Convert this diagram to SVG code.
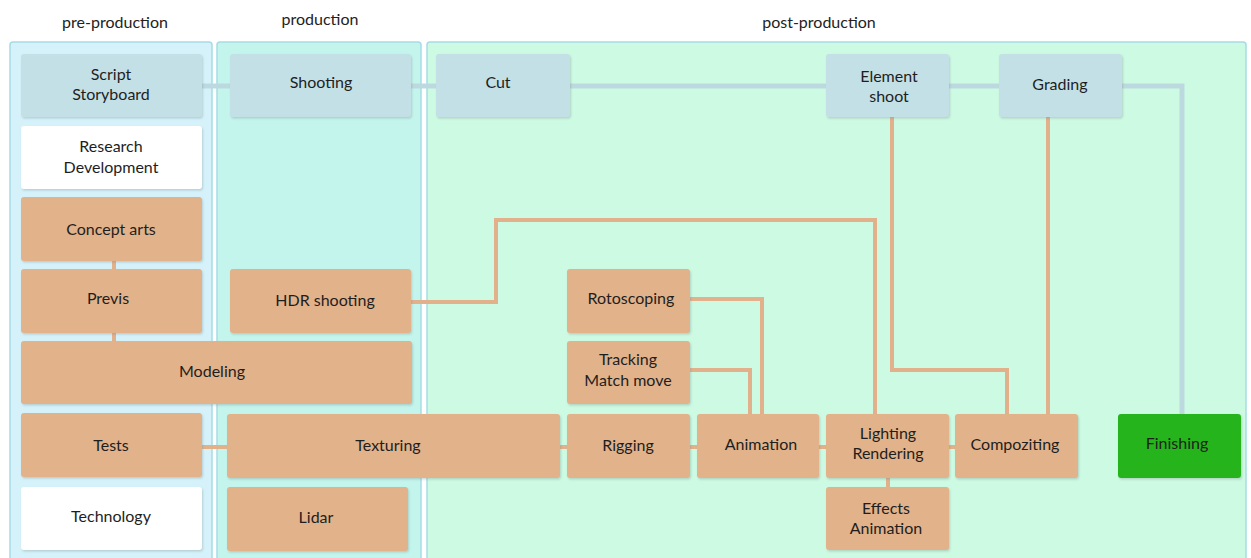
<svg xmlns="http://www.w3.org/2000/svg" width="1251" height="558" viewBox="0 0 1251 558">
  <defs>
    <filter id="shadow" x="-10%" y="-10%" width="120%" height="130%">
      <feDropShadow dx="1" dy="1.5" stdDeviation="1" flood-color="#7a8a8a" flood-opacity="0.35"/>
    </filter>
  </defs>
  <style>
    text { font-family: Lato, "Open Sans", "Liberation Sans", sans-serif; font-size: 16px; fill: #1e1e1e; text-anchor: middle; }
    .hdr { fill: #222; }
    .panel { stroke: #a6dbe5; stroke-width: 1.5; }
    .node rect { filter: url(#shadow); }
    .blue rect { fill: #c3e0e6; }
    .orange rect { fill: #e2b28a; }
    .white rect { fill: #ffffff; }
    .green rect { fill: #28b41d; }
    .c-blue { stroke: #bcd9df; stroke-width: 5; fill: none; }
    .c-orange { stroke: #e2b08a; stroke-width: 4; fill: none; }
  </style>

  <rect width="1251" height="558" fill="#ffffff"/>

  <!-- phase headings -->
  <text class="hdr" x="115" y="28">pre-production</text>
  <text class="hdr" x="320" y="25">production</text>
  <text class="hdr" x="819" y="28">post-production</text>

  <!-- phase panels -->
  <rect class="panel" x="10" y="42" width="202" height="520" rx="3" fill="#d5f2fb"/>
  <rect class="panel" x="217" y="42" width="204" height="520" rx="3" fill="#c3f5ed"/>
  <rect class="panel" x="427" y="42" width="819" height="520" rx="3" fill="#cdfae2"/>

  <!-- connectors -->
  <g id="connectors">
    <path class="c-blue" d="M202 86 H230 M411 86 H436 M570 86 H826 M949 86 H999 M1122 86 H1182 V414"/>
    <path class="c-orange" d="M114 261 V269 M114 333 V341"/>
    <path class="c-orange" d="M202 447 H227 M560 447 H567 M690 447 H697 M819 447 H826 M949 447 H955 M888 478 V487"/>
    <path class="c-orange" d="M411 302 H496 V220 H875 V414"/>
    <path class="c-orange" d="M690 299 H762 V414"/>
    <path class="c-orange" d="M690 370 H750 V414"/>
    <path class="c-orange" d="M892 117 V370 H1007 V414"/>
    <path class="c-orange" d="M1048 117 V414"/>
  </g>

  <!-- nodes -->
  <g id="script" class="node blue"><rect x="21" y="54" width="181" height="63" rx="3"/><text x="111" y="80">Script</text><text x="111" y="100">Storyboard</text></g>
  <g id="shooting" class="node blue"><rect x="230" y="54" width="181" height="63" rx="3"/><text x="321" y="88">Shooting</text></g>
  <g id="cut" class="node blue"><rect x="436" y="54" width="134" height="63" rx="3"/><text x="498" y="88">Cut</text></g>
  <g id="element-shoot" class="node blue"><rect x="826" y="54" width="123" height="63" rx="3"/><text x="889" y="82">Element</text><text x="889" y="102">shoot</text></g>
  <g id="grading" class="node blue"><rect x="999" y="54" width="123" height="63" rx="3"/><text x="1060" y="90">Grading</text></g>

  <g id="research" class="node white"><rect x="21" y="126" width="181" height="63" rx="3"/><text x="111" y="152">Research</text><text x="111" y="173">Development</text></g>
  <g id="concept-arts" class="node orange"><rect x="21" y="197" width="181" height="64" rx="3"/><text x="111" y="235">Concept arts</text></g>
  <g id="previs" class="node orange"><rect x="21" y="269" width="181" height="64" rx="3"/><text x="108" y="304">Previs</text></g>
  <g id="hdr-shooting" class="node orange"><rect x="230" y="269" width="181" height="64" rx="3"/><text x="325" y="306">HDR shooting</text></g>
  <g id="modeling" class="node orange"><rect x="21" y="341" width="391" height="63" rx="3"/><text x="212" y="377">Modeling</text></g>
  <g id="tests" class="node orange"><rect x="21" y="413" width="181" height="64" rx="3"/><text x="111" y="451">Tests</text></g>
  <g id="texturing" class="node orange"><rect x="227" y="414" width="333" height="64" rx="3"/><text x="388" y="451">Texturing</text></g>
  <g id="technology" class="node white"><rect x="21" y="487" width="181" height="63" rx="3"/><text x="111" y="522">Technology</text></g>
  <g id="lidar" class="node orange"><rect x="227" y="487" width="181" height="64" rx="3"/><text x="316" y="523">Lidar</text></g>

  <g id="rotoscoping" class="node orange"><rect x="567" y="269" width="123" height="64" rx="3"/><text x="631" y="304">Rotoscoping</text></g>
  <g id="tracking" class="node orange"><rect x="567" y="341" width="123" height="63" rx="3"/><text x="628" y="365">Tracking</text><text x="628" y="386">Match move</text></g>
  <g id="rigging" class="node orange"><rect x="567" y="414" width="123" height="64" rx="3"/><text x="628" y="451">Rigging</text></g>
  <g id="animation" class="node orange"><rect x="697" y="414" width="122" height="64" rx="3"/><text x="761" y="450">Animation</text></g>
  <g id="lighting" class="node orange"><rect x="826" y="414" width="123" height="64" rx="3"/><text x="888" y="439">Lighting</text><text x="888" y="459">Rendering</text></g>
  <g id="compoziting" class="node orange"><rect x="955" y="414" width="123" height="64" rx="3"/><text x="1015" y="450">Compoziting</text></g>
  <g id="effects" class="node orange"><rect x="826" y="487" width="123" height="63" rx="3"/><text x="886" y="514">Effects</text><text x="886" y="534">Animation</text></g>
  <g id="finishing" class="node green"><rect x="1118" y="414" width="123" height="64" rx="3"/><text x="1177" y="449">Finishing</text></g>
</svg>
